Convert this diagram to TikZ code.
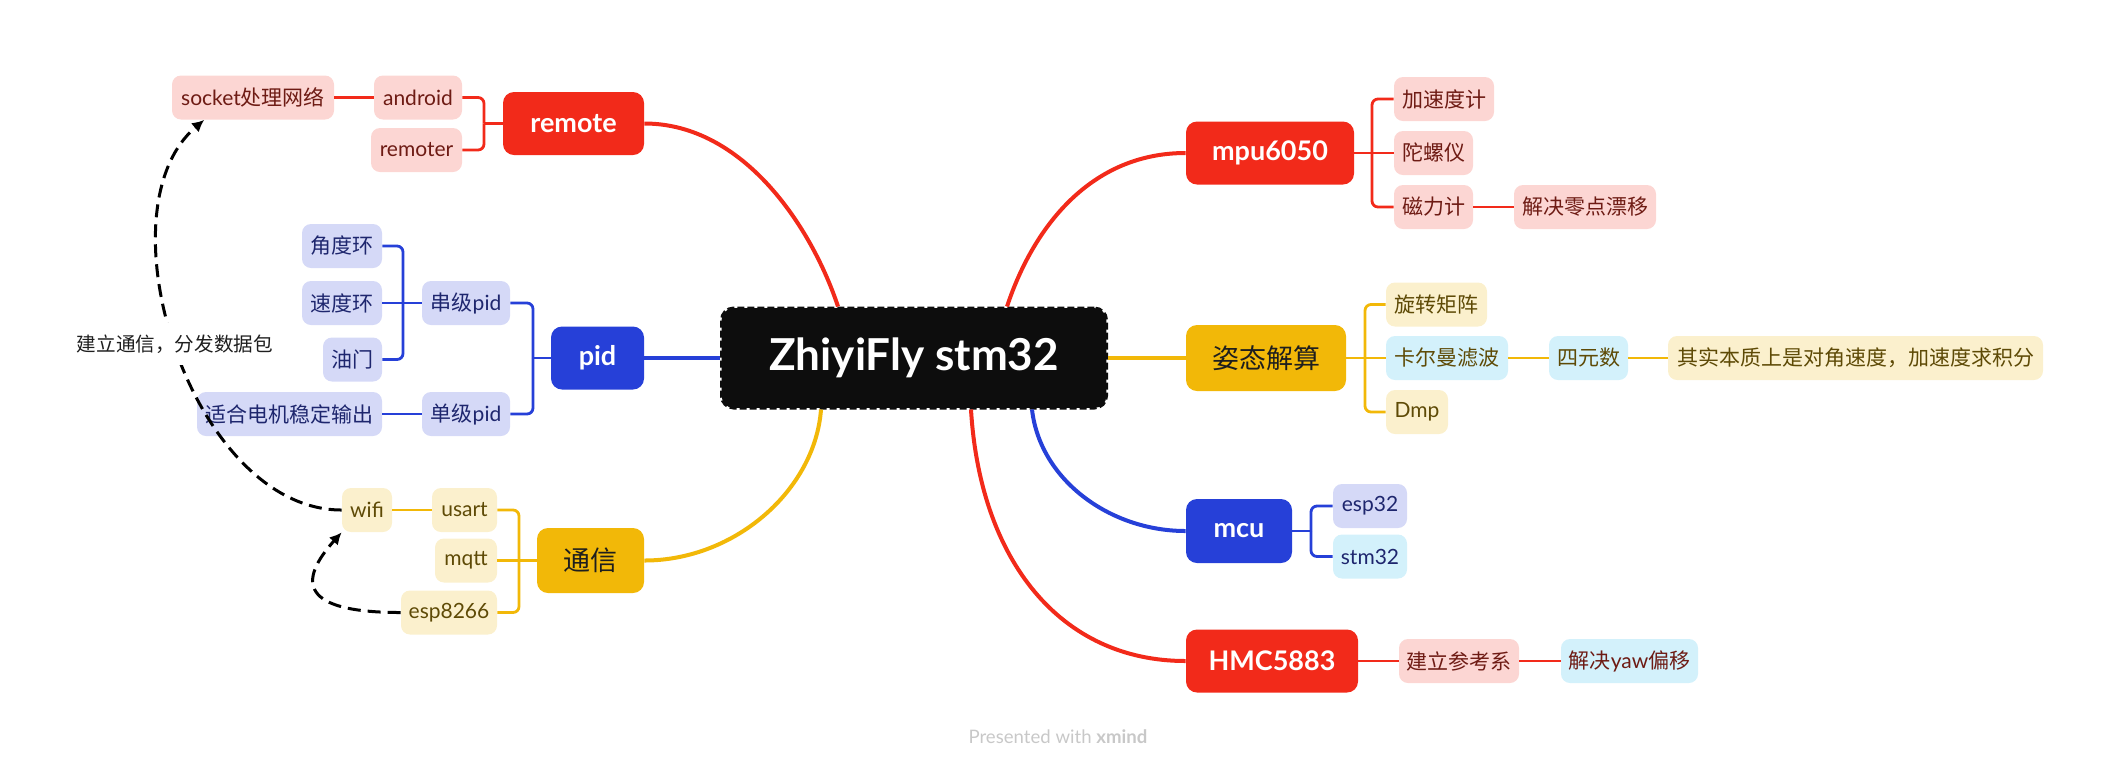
\documentclass[tikz,border=0pt]{standalone}
\usepackage{fontspec}
\setmainfont{Lato}
\newfontfamily\cjk{Noto Sans CJK SC}
\usetikzlibrary{calc,arrows.meta}
\definecolor{redc}{RGB}{242,42,26}
\definecolor{bluec}{RGB}{38,64,216}
\definecolor{yelc}{RGB}{242,184,8}
\definecolor{pinkf}{RGB}{252,214,211}
\definecolor{lavf}{RGB}{213,217,247}
\definecolor{lyelf}{RGB}{251,240,205}
\definecolor{cyanf}{RGB}{211,241,251}
\definecolor{redt}{RGB}{110,27,20}
\definecolor{bluet}{RGB}{30,38,110}
\definecolor{yelt}{RGB}{94,74,6}
\definecolor{rootf}{RGB}{13,13,13}
\definecolor{graytxt}{RGB}{200,200,200}
\definecolor{darktxt}{RGB}{30,30,30}
\begin{document}
\begin{tikzpicture}[x=0.5pt,y=-0.5pt,
  sub/.style={rounded corners=4.5pt, minimum height=22pt, inner sep=0pt, font=\fontsize{10.5}{12}\selectfont},
  pk/.style={sub, fill=pinkf, text=redt},
  lv/.style={sub, fill=lavf, text=bluet},
  ly/.style={sub, fill=lyelf, text=yelt},
  cyr/.style={sub, fill=cyanf, text=redt},
  cyb/.style={sub, fill=cyanf, text=bluet},
  cyy/.style={sub, fill=cyanf, text=yelt},
  branch/.style={rounded corners=5.5pt, minimum height=31.5pt, inner sep=0pt, font=\fontsize{13.5}{16}\selectfont\bfseries},
  brred/.style={branch, fill=redc, text=white},
  brblue/.style={branch, fill=bluec, text=white},
  bryel/.style={branch, fill=yelc, text=darktxt, font=\fontsize{13.5}{16}\selectfont\cjk},
  rootbox/.style={rounded corners=6pt, fill=rootf, draw=rootf, line width=1.6pt, dash pattern=on 3.5pt off 1.5pt, inner sep=0pt, text=white, font=\fontsize{22}{26}\selectfont\bfseries},
  mainline/.style={line width=2pt},
  subline/.style={line width=1.4pt},
  bracket/.style={subline, rounded corners=3pt},
  rel/.style={line width=1.5pt, dash pattern=on 6.5pt off 3.5pt, -{Latex[length=6pt,width=6pt]}, black}
]
\useasboundingbox (0,0) rectangle (2118,768);

% ---------- nodes ----------
\node[rootbox, minimum width=192.4pt, minimum height=49.9pt] (root) at (914,358) {ZhiyiFly stm32};

\node[brred, minimum width=70.5pt] (remote) at (573.5,123.5) {remote};
\node[brblue, minimum width=46.5pt] (pid) at (597.5,358) {pid};
\node[bryel, minimum width=53.5pt, minimum height=32.5pt] (tongxin) at (590.5,560.5) {通信};
\node[brred, minimum width=84pt] (mpu) at (1270,153) {mpu6050};
\node[bryel, minimum width=80pt, minimum height=33pt] (zitai) at (1266,358) {姿态解算};
\node[brblue, minimum width=53pt, minimum height=32pt] (mcu) at (1239,531) {mcu};
\node[brred, minimum width=86pt] (hmc) at (1272,661) {HMC5883};

\node[pk, minimum width=81pt] (socket) at (253,97.5) {socket{\cjk 处理网络}};
\node[pk, minimum width=44pt] (android) at (418,97.5) {android};
\node[pk, minimum width=45.5pt] (remoter) at (416.5,150) {remoter};

\node[lv, minimum width=40pt] (jiaodu) at (342,246) {\cjk 角度环};
\node[lv, minimum width=40pt] (sudu) at (342,303) {\cjk 速度环};
\node[lv, minimum width=29.5pt] (youmen) at (352.5,359.5) {\cjk 油门};
\node[lv, minimum width=44pt] (chuanji) at (466,303) {{\cjk 串级}pid};
\node[lv, minimum width=44pt] (danji) at (466,414) {{\cjk 单级}pid};
\node[lv, minimum width=92.5pt] (shihe) at (289.5,414) {\cjk 适合电机稳定输出};

\node[ly, minimum width=25pt] (wifi) at (367,510) {wifi};
\node[ly, minimum width=32.5pt] (usart) at (464.5,510) {usart};
\node[ly, minimum width=31pt] (mqtt) at (466,560.5) {mqtt};
\node[ly, minimum width=48pt] (esp8266) at (449,612.5) {esp8266};

\node[pk, minimum width=50pt] (jiasu) at (1444,99) {\cjk 加速度计};
\node[pk, minimum width=39.5pt] (tuoluo) at (1433.5,153) {\cjk 陀螺仪};
\node[pk, minimum width=39.5pt] (cili) at (1433.5,207) {\cjk 磁力计};
\node[pk, minimum width=71pt] (jiejue) at (1585,207) {\cjk 解决零点漂移};

\node[ly, minimum width=50.5pt] (xuanzhuan) at (1436.5,304.5) {\cjk 旋转矩阵};
\node[cyy, minimum width=61pt] (kaerman) at (1447,358) {\cjk 卡尔曼滤波};
\node[cyy, minimum width=39.5pt] (siyuan) at (1588.5,358) {\cjk 四元数};
\node[ly, minimum width=187.5pt] (qishi) at (1855.5,358) {\cjk 其实本质上是对角速度，加速度求积分};
\node[ly, minimum width=31pt] (dmp) at (1417,412) {Dmp};

\node[lv, minimum width=37pt] (esp32) at (1370,506) {esp32};
\node[cyb, minimum width=37pt] (stm32) at (1370,556.5) {stm32};

\node[pk, minimum width=60pt] (cankao) at (1459,661) {\cjk 建立参考系};
\node[cyr, minimum width=68.5pt] (yaw) at (1629.5,661) {{\cjk 解决}yaw{\cjk 偏移}};

\node[text=graytxt, font=\fontsize{9.3}{11}\selectfont] (credit) at (1058,737) {Presented with \textbf{xmind}};

% ---------- main connectors ----------
\draw[mainline, redc] ($(root.north)+(-76,0)$) .. controls (812,228) and (744,123.5) .. (remote.east);
\draw[mainline, redc] ($(root.north)+(93,0)$) .. controls (1033,228) and (1090,153) .. (mpu.west);
\draw[mainline, bluec] (root.west) -- (pid.east);
\draw[mainline, yelc] (root.east) -- (zitai.west);
\draw[mainline, yelc] ($(root.south)+(-93,0)$) .. controls (815,490) and (735,560.5) .. (tongxin.east);
\draw[mainline, bluec] ($(root.south)+(118,0)$) .. controls (1040,480) and (1110,531) .. (mcu.west);
\draw[mainline, redc] ($(root.south)+(57,0)$) .. controls (980,560) and (1060,661) .. (hmc.west);

% ---------- brackets and sub connectors ----------
\coordinate (bremote) at (484,123.5);
\draw[subline, redc] (remote.west) -- (bremote);
\draw[bracket, redc] (bremote) |- (android.east);
\draw[bracket, redc] (bremote) |- (remoter.east);
\draw[subline, redc] (android.west) -- (socket.east);

\coordinate (bpid) at (533,358);
\draw[subline, bluec] (pid.west) -- (bpid);
\draw[bracket, bluec] (bpid) |- (chuanji.east);
\draw[bracket, bluec] (bpid) |- (danji.east);
\coordinate (bcj) at (403,303);
\draw[subline, bluec] (chuanji.west) -- (bcj);
\draw[bracket, bluec] (bcj) |- (jiaodu.east);
\draw[bracket, bluec] (bcj) -- (sudu.east);
\draw[bracket, bluec] (bcj) |- (youmen.east);
\draw[subline, bluec] (danji.west) -- (shihe.east);

\coordinate (btx) at (519,560.5);
\draw[subline, yelc] (tongxin.west) -- (btx);
\draw[bracket, yelc] (btx) |- (usart.east);
\draw[bracket, yelc] (btx) -- (mqtt.east);
\draw[bracket, yelc] (btx) |- (esp8266.east);
\draw[subline, yelc] (usart.west) -- (wifi.east);

\coordinate (bmpu) at (1372,153);
\draw[subline, redc] (mpu.east) -- (bmpu);
\draw[bracket, redc] (bmpu) |- (jiasu.west);
\draw[bracket, redc] (bmpu) -- (tuoluo.west);
\draw[bracket, redc] (bmpu) |- (cili.west);
\draw[subline, redc] (cili.east) -- (jiejue.west);

\coordinate (bzt) at (1365,358);
\draw[subline, yelc] (zitai.east) -- (bzt);
\draw[bracket, yelc] (bzt) |- (xuanzhuan.west);
\draw[bracket, yelc] (bzt) -- (kaerman.west);
\draw[bracket, yelc] (bzt) |- (dmp.west);
\draw[subline, yelc] (kaerman.east) -- (siyuan.west);
\draw[subline, yelc] (siyuan.east) -- (qishi.west);

\coordinate (bmcu) at (1311,531);
\draw[subline, bluec] (mcu.east) -- (bmcu);
\draw[bracket, bluec] (bmcu) |- (esp32.west);
\draw[bracket, bluec] (bmcu) |- (stm32.west);

\draw[subline, redc] (hmc.east) -- (cankao.west);
\draw[subline, redc] (cankao.east) -- (yaw.west);

% ---------- relationship arrows ----------
\draw[rel] (wifi.west) .. controls (192,510) and (97,211) .. ($(socket.south west)!0.2!(socket.south east)$)
  node[pos=0.51, fill=white, inner xsep=2pt, inner ysep=6pt, text=darktxt, font=\fontsize{9.8}{12}\selectfont\cjk] (rellabel) {建立通信，分发数据包};
\draw[rel] (esp8266.west) .. controls (301,612.5) and (297,582) .. (wifi.south west);
\end{tikzpicture}
\end{document}
